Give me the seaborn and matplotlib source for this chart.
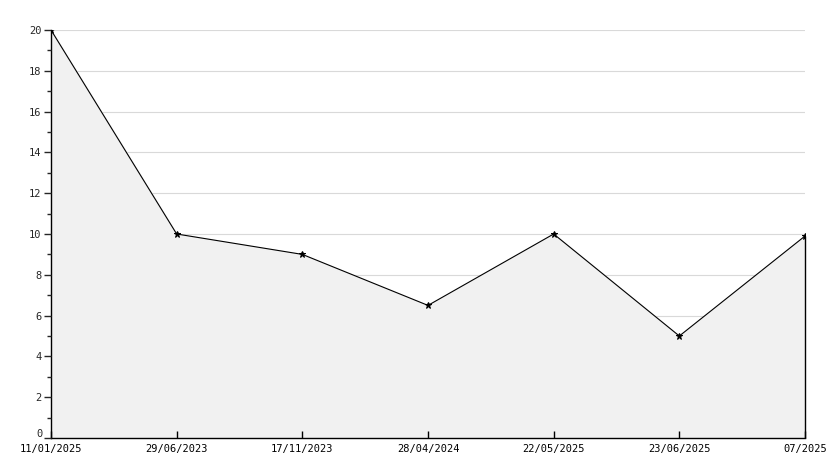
import matplotlib
matplotlib.use("Agg")
import matplotlib.pyplot as plt
import pandas as pd
import seaborn as sns
from matplotlib.ticker import MultipleLocator, FuncFormatter

# dados
datas = ['11/01/2025', '29/06/2023', '17/11/2023', '28/04/2024',
         '22/05/2025', '23/06/2025', '07/2025']
valores = [20, 10, 9, 6.5, 10, 5, 9.9]

df = pd.DataFrame({'pos': range(len(datas)), 'valor': valores})

sns.set_style('white')
plt.rcParams['font.family'] = ['DejaVu Sans Mono', 'DejaVu Sans']

fig = plt.figure(figsize=(8.34, 4.68), dpi=100)
ax = fig.add_axes([51 / 834, 30 / 468, (805 - 51) / 834, (438 - 30) / 468])
ax.set_axisbelow(False)

ax.set_xlim(0, len(datas) - 1)
ax.set_ylim(0, 20)
ax.yaxis.set_major_locator(MultipleLocator(2))
ax.yaxis.set_minor_locator(MultipleLocator(1))
# o "0" vai ser escrito a parte, um pouco acima
ax.yaxis.set_major_formatter(FuncFormatter(lambda v, p: '' if v == 0 else '%d' % v))

# grade atras da area preenchida
for y in ax.get_yticks()[1:]:
    ax.axhline(y, color='#d9d9d9', linewidth=0.8, zorder=0)

ax.fill_between(df['pos'], df['valor'], 0, color='#f1f1f1', zorder=1)
sns.lineplot(data=df, x='pos', y='valor', ax=ax, color='black', linewidth=0.8,
             marker='*', markersize=5, markeredgecolor='black', zorder=4)
ax.vlines(df['pos'].iloc[-1], 0, df['valor'].iloc[-1], color='black',
          linewidth=1, zorder=4, clip_on=False)

ax.set_xticks(df['pos'])
ax.set_xticklabels(datas)

for s in ['top', 'right']:
    ax.spines[s].set_visible(False)
for s in ['left', 'bottom']:
    ax.spines[s].set_color('black')
    ax.spines[s].set_linewidth(1)

ax.tick_params(axis='x', direction='in', length=5, width=1, labelsize=7.5, pad=4,
               colors='black', bottom=True)
ax.tick_params(axis='y', which='major', direction='out', length=5, width=1, labelsize=7.5, pad=2, left=True)
ax.tick_params(axis='y', which='minor', direction='out', length=3, width=1, left=True)
ax.set_xlabel('')
ax.set_ylabel('')

ax.annotate('0', xy=(0, 0), xycoords=('axes fraction', 'data'), xytext=(-6, 3),
            textcoords='offset points', ha='right', va='center', fontsize=7.5)

fig.savefig('out.png', dpi=100)
